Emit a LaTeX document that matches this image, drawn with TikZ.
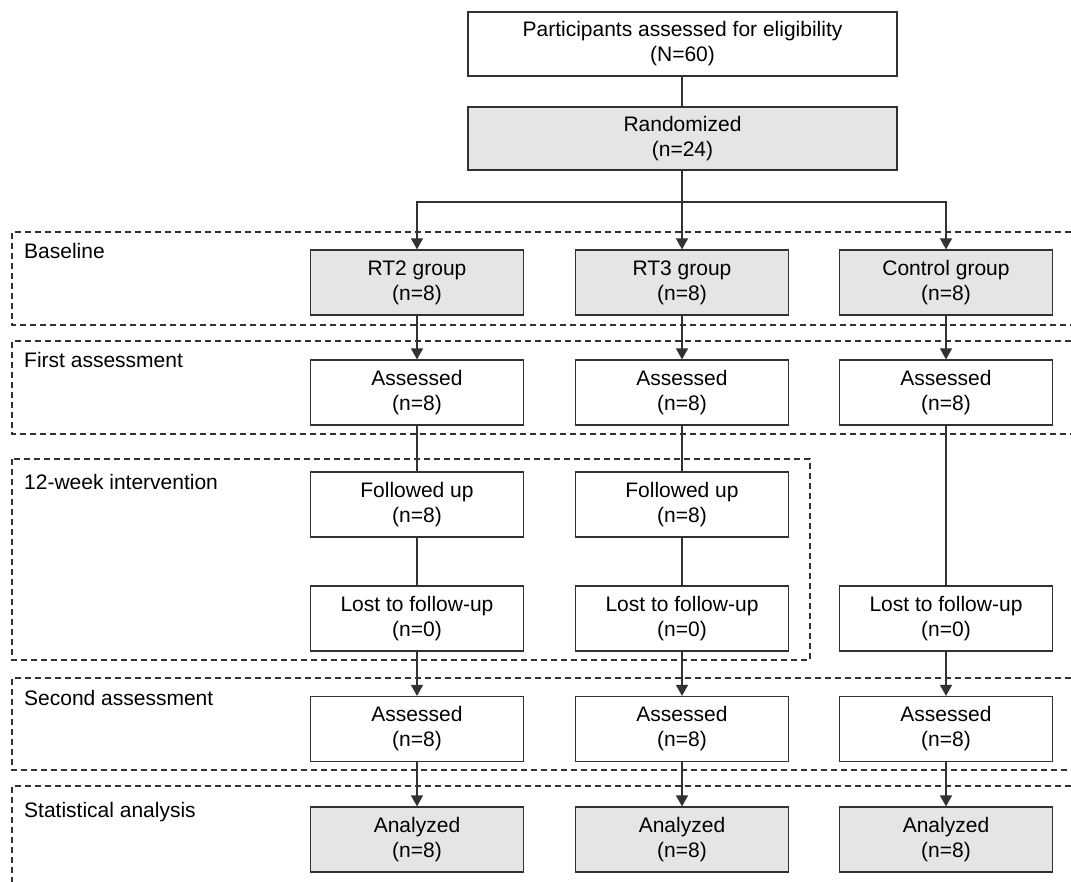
\documentclass[tikz,border=0pt]{standalone}
\usepackage{fontspec}
\setmainfont{Liberation Sans}
\usetikzlibrary{arrows.meta}
\definecolor{ln}{RGB}{50,50,50}
\definecolor{fl}{RGB}{230,229,230}
\begin{document}
\begin{tikzpicture}[x=1pt,y=-1pt,
  txt/.style={font=\fontsize{21}{25}\selectfont},
  box/.style={txt,draw=ln,line width=1.2pt,fill=white,minimum width=213pt,minimum height=65pt,inner sep=0pt,align=center},
  gbox/.style={box,fill=fl},
  zone/.style={draw=ln,dash pattern=on 6pt off 4pt,line width=1.1pt},
  arr/.style={draw=ln,line width=1.2pt,-{Triangle[width=12pt,length=11pt]}},
  con/.style={draw=ln,line width=1.2pt},
  lab/.style={txt,anchor=base west,inner sep=0pt}]
\useasboundingbox (0,0) rectangle (1071,882);
% zones
\draw[zone] (1071,232) -- (12,232) -- (12,325) -- (1071,325);
\draw[zone] (1071,341) -- (12,341) -- (12,434) -- (1071,434);
\draw[zone] (12,459) rectangle (810,660);
\draw[zone] (1071,678) -- (12,678) -- (12,770) -- (1071,770);
\draw[zone] (1071,786) -- (12,786) -- (12,882);
\node[lab] (lb1) at (24,259) {Baseline};
\node[lab] (lb2) at (24,368) {First assessment};
\node[lab] (lb3) at (24,489) {12-week intervention};
\node[lab] (lb4) at (24,705) {Second assessment};
\node[lab] (lb5) at (24,817) {Statistical analysis};
% top
\node[box,minimum width=429pt,minimum height=64pt] (top) at (682.5,44) {Participants assessed for eligibility\\(N=60)};
\node[gbox,minimum width=429pt,minimum height=63pt] (rand) at (682.5,138.5) {Randomized\\(n=24)};
% baseline
\node[gbox] (g2) at (417,282.5) {RT2 group\\(n=8)};
\node[gbox] (g3) at (682,282.5) {RT3 group\\(n=8)};
\node[gbox] (gc) at (946,282.5) {Control group\\(n=8)};
% first assessment
\node[box] (a2) at (417,392.5) {Assessed\\(n=8)};
\node[box] (a3) at (682,392.5) {Assessed\\(n=8)};
\node[box] (ac) at (946,392.5) {Assessed\\(n=8)};
% intervention
\node[box] (f2) at (417,504.5) {Followed up\\(n=8)};
\node[box] (f3) at (682,504.5) {Followed up\\(n=8)};
\node[box] (l2) at (417,618.5) {Lost to follow-up\\(n=0)};
\node[box] (l3) at (682,618.5) {Lost to follow-up\\(n=0)};
\node[box] (lc) at (946,618.5) {Lost to follow-up\\(n=0)};
% second assessment
\node[box] (b2) at (417,729) {Assessed\\(n=8)};
\node[box] (b3) at (682,729) {Assessed\\(n=8)};
\node[box] (bc) at (946,729) {Assessed\\(n=8)};
% analysis
\node[gbox] (z2) at (417,839.5) {Analyzed\\(n=8)};
\node[gbox] (z3) at (682,839.5) {Analyzed\\(n=8)};
\node[gbox] (zc) at (946,839.5) {Analyzed\\(n=8)};
% connectors
\coordinate (br) at (682,202);
\draw[con] (top.south -| br) -- (rand.north -| br);
\draw[arr] (rand.south -| br) -- (g3.north);
\draw[arr] (br) -| (g2.north);
\draw[arr] (br) -| (gc.north);
\draw[arr] (g2) -- (a2);
\draw[arr] (g3) -- (a3);
\draw[arr] (gc) -- (ac);
\draw[con] (a2) -- (f2);
\draw[con] (a3) -- (f3);
\draw[con] (f2) -- (l2);
\draw[con] (f3) -- (l3);
\draw[con] (ac) -- (lc);
\draw[arr] (l2) -- (b2);
\draw[arr] (l3) -- (b3);
\draw[arr] (lc) -- (bc);
\draw[arr] (b2) -- (z2);
\draw[arr] (b3) -- (z3);
\draw[arr] (bc) -- (zc);
\end{tikzpicture}
\end{document}
